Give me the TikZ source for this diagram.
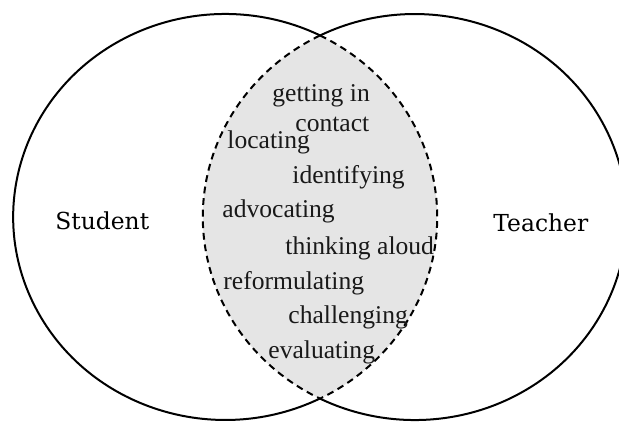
\documentclass[tikz,border=0pt]{standalone}
\usepackage{fontspec}
\setmainfont{Liberation Serif}
\newfontfamily\rolefont{DejaVu Serif}
\tikzset{
  word/.style={anchor=base west, inner sep=0pt, font=\fontsize{12.8}{15}\selectfont, text=black!90},
  role/.style={anchor=base west, inner sep=0pt, font=\rolefont\fontsize{11.7}{14}\selectfont},
  ring/.style={line width=1pt},
  lens/.style={fill=black!10, line width=1pt, dash pattern=on 3.4pt off 2.4pt}
}
\begin{document}
\begin{tikzpicture}[x=0.5pt, y=-0.5pt]
\useasboundingbox (0,0) rectangle (619,423);
\coordinate (top) at (320,35.5);
\coordinate (bot) at (320,398.5);
\draw [lens] (top) arc[start angle=-63.43, end angle=63.43, x radius=212, y radius=203]
  arc[start angle=116.57, end angle=243.43, x radius=212, y radius=203] -- cycle;
\draw [ring] (bot) arc[start angle=63.43, end angle=296.57, x radius=212, y radius=203];
\draw [ring] (top) arc[start angle=-116.57, end angle=116.57, x radius=212, y radius=203];

\node [role] (student) at (55,229) {Student};
\node [role] (teacher) at (493,231) {Teacher};

\node [word] (getting) at (272,101) {getting in};
\node [word] (contact) at (295,131) {contact};
\node [word] (locating) at (227,148) {locating};
\node [word] (identifying) at (292,183) {identifying};
\node [word] (advocating) at (222,217) {advocating};
\node [word] (thinking) at (285,254) {thinking aloud};
\node [word] (reform) at (223,289) {reformulating};
\node [word] (challenging) at (288,323) {challenging};
\node [word] (evaluating) at (268,358) {evaluating};
\end{tikzpicture}
\end{document}
